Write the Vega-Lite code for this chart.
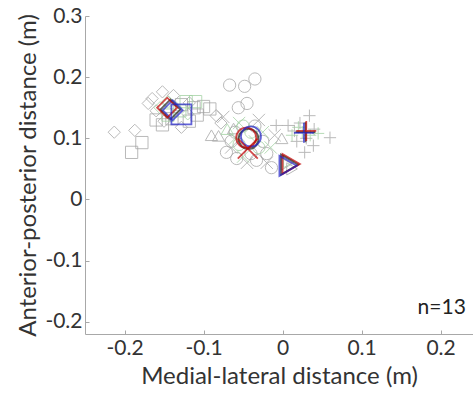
{
  "$schema": "https://vega.github.io/schema/vega-lite/v6.json",
  "width": 388,
  "height": 318,
  "autosize": {"type": "none"},
  "padding": {"left": 85, "top": 16, "right": 0, "bottom": 68},
  "background": "white",
  "config": {
    "view": {"stroke": null},
    "font": "Lato",
    "axis": {
      "grid": false,
      "domainColor": "#a8a8a8",
      "tickColor": "#a8a8a8",
      "tickSize": -4,
      "labelFont": "Lato",
      "titleFont": "Lato",
      "labelFontSize": 21,
      "titleFontSize": 24,
      "labelColor": "#333333",
      "titleColor": "#333333",
      "titleFontWeight": "normal",
      "labelPadding": 7
    }
  },
  "datasets": {
    "small": [
      {"x": -0.213, "y": 0.110, "m": "D", "c": "gray"},
      {"x": -0.187, "y": 0.113, "m": "D", "c": "gray"},
      {"x": -0.170, "y": 0.157, "m": "D", "c": "gray"},
      {"x": -0.152, "y": 0.176, "m": "D", "c": "gray"},
      {"x": -0.160, "y": 0.145, "m": "D", "c": "gray"},
      {"x": -0.138, "y": 0.170, "m": "D", "c": "gray"},
      {"x": -0.128, "y": 0.118, "m": "D", "c": "gray"},
      {"x": -0.150, "y": 0.128, "m": "D", "c": "gray"},
      {"x": -0.118, "y": 0.158, "m": "D", "c": "gray"},
      {"x": -0.165, "y": 0.165, "m": "D", "c": "gray"},
      {"x": -0.084, "y": 0.137, "m": "D", "c": "gray"},
      {"x": -0.078, "y": 0.125, "m": "D", "c": "gray"},
      {"x": -0.145, "y": 0.160, "m": "D", "c": "green"},
      {"x": -0.135, "y": 0.150, "m": "D", "c": "green"},
      {"x": -0.120, "y": 0.140, "m": "D", "c": "green"},
      {"x": -0.155, "y": 0.150, "m": "D", "c": "green"},
      {"x": -0.178, "y": 0.093, "m": "S", "c": "gray"},
      {"x": -0.191, "y": 0.077, "m": "S", "c": "gray"},
      {"x": -0.128, "y": 0.155, "m": "S", "c": "gray"},
      {"x": -0.112, "y": 0.150, "m": "S", "c": "gray"},
      {"x": -0.100, "y": 0.152, "m": "S", "c": "gray"},
      {"x": -0.108, "y": 0.138, "m": "S", "c": "gray"},
      {"x": -0.140, "y": 0.132, "m": "S", "c": "gray"},
      {"x": -0.152, "y": 0.122, "m": "S", "c": "gray"},
      {"x": -0.118, "y": 0.128, "m": "S", "c": "gray"},
      {"x": -0.092, "y": 0.148, "m": "S", "c": "gray"},
      {"x": -0.160, "y": 0.130, "m": "S", "c": "gray"},
      {"x": -0.122, "y": 0.160, "m": "S", "c": "green"},
      {"x": -0.110, "y": 0.160, "m": "S", "c": "green"},
      {"x": -0.130, "y": 0.145, "m": "S", "c": "green"},
      {"x": -0.145, "y": 0.138, "m": "S", "c": "green"},
      {"x": -0.067, "y": 0.187, "m": "O", "c": "gray"},
      {"x": -0.048, "y": 0.185, "m": "O", "c": "gray"},
      {"x": -0.035, "y": 0.197, "m": "O", "c": "gray"},
      {"x": -0.056, "y": 0.150, "m": "O", "c": "gray"},
      {"x": -0.045, "y": 0.157, "m": "O", "c": "gray"},
      {"x": -0.071, "y": 0.077, "m": "O", "c": "gray"},
      {"x": -0.058, "y": 0.067, "m": "O", "c": "gray"},
      {"x": -0.033, "y": 0.064, "m": "O", "c": "gray"},
      {"x": -0.020, "y": 0.075, "m": "O", "c": "gray"},
      {"x": -0.014, "y": 0.052, "m": "O", "c": "gray"},
      {"x": -0.060, "y": 0.110, "m": "O", "c": "gray"},
      {"x": -0.025, "y": 0.095, "m": "O", "c": "gray"},
      {"x": -0.035, "y": 0.120, "m": "O", "c": "gray"},
      {"x": -0.065, "y": 0.095, "m": "O", "c": "gray"},
      {"x": -0.040, "y": 0.075, "m": "O", "c": "gray"},
      {"x": -0.050, "y": 0.120, "m": "O", "c": "green"},
      {"x": -0.030, "y": 0.085, "m": "O", "c": "green"},
      {"x": -0.055, "y": 0.090, "m": "O", "c": "green"},
      {"x": -0.040, "y": 0.110, "m": "O", "c": "green"},
      {"x": -0.075, "y": 0.135, "m": "X", "c": "gray"},
      {"x": -0.030, "y": 0.130, "m": "X", "c": "gray"},
      {"x": -0.010, "y": 0.105, "m": "X", "c": "gray"},
      {"x": -0.020, "y": 0.060, "m": "X", "c": "gray"},
      {"x": -0.045, "y": 0.060, "m": "X", "c": "gray"},
      {"x": -0.065, "y": 0.085, "m": "X", "c": "gray"},
      {"x": -0.055, "y": 0.125, "m": "X", "c": "green"},
      {"x": -0.035, "y": 0.095, "m": "X", "c": "green"},
      {"x": -0.025, "y": 0.110, "m": "X", "c": "green"},
      {"x": -0.050, "y": 0.070, "m": "X", "c": "green"},
      {"x": -0.015, "y": 0.085, "m": "X", "c": "green"},
      {"x": -0.060, "y": 0.100, "m": "X", "c": "green"},
      {"x": -0.081, "y": 0.104, "m": "U", "c": "gray"},
      {"x": -0.062, "y": 0.116, "m": "U", "c": "gray"},
      {"x": -0.001, "y": 0.100, "m": "U", "c": "gray"},
      {"x": -0.090, "y": 0.105, "m": "U", "c": "gray"},
      {"x": -0.070, "y": 0.115, "m": "U", "c": "green"},
      {"x": 0.005, "y": 0.058, "m": "T", "c": "gray"},
      {"x": 0.012, "y": 0.050, "m": "T", "c": "gray"},
      {"x": 0.008, "y": 0.062, "m": "T", "c": "green"},
      {"x": -0.008, "y": 0.121, "m": "P", "c": "gray"},
      {"x": 0.007, "y": 0.121, "m": "P", "c": "gray"},
      {"x": 0.034, "y": 0.137, "m": "P", "c": "gray"},
      {"x": 0.060, "y": 0.101, "m": "P", "c": "gray"},
      {"x": 0.028, "y": 0.077, "m": "P", "c": "gray"},
      {"x": 0.039, "y": 0.088, "m": "P", "c": "gray"},
      {"x": 0.015, "y": 0.112, "m": "P", "c": "gray"},
      {"x": 0.022, "y": 0.125, "m": "P", "c": "gray"},
      {"x": 0.040, "y": 0.115, "m": "P", "c": "gray"},
      {"x": 0.030, "y": 0.100, "m": "P", "c": "gray"},
      {"x": 0.018, "y": 0.095, "m": "P", "c": "gray"},
      {"x": 0.025, "y": 0.110, "m": "P", "c": "green"},
      {"x": 0.035, "y": 0.105, "m": "P", "c": "green"},
      {"x": 0.020, "y": 0.118, "m": "P", "c": "green"},
      {"x": 0.045, "y": 0.108, "m": "P", "c": "green"},
      {"x": 0.012, "y": 0.105, "m": "P", "c": "green"}
    ],
    "big": [
      {"x": -0.142, "y": 0.147, "m": "D", "c": "black"},
      {"x": -0.139, "y": 0.146, "m": "D", "c": "blue"},
      {"x": -0.146, "y": 0.150, "m": "D", "c": "red"},
      {"x": -0.128, "y": 0.139, "m": "S", "c": "blue"},
      {"x": -0.043, "y": 0.099, "m": "O", "c": "black"},
      {"x": -0.046, "y": 0.101, "m": "O", "c": "red"},
      {"x": -0.040, "y": 0.103, "m": "O", "c": "blue"},
      {"x": -0.044, "y": 0.083, "m": "X", "c": "red"},
      {"x": 0.009, "y": 0.057, "m": "T", "c": "black"},
      {"x": 0.011, "y": 0.058, "m": "T", "c": "red"},
      {"x": 0.007, "y": 0.055, "m": "T", "c": "blue"},
      {"x": 0.029, "y": 0.110, "m": "P", "c": "black"},
      {"x": 0.030, "y": 0.112, "m": "P", "c": "red"},
      {"x": 0.027, "y": 0.109, "m": "P", "c": "blue"}
    ],
    "label": [
      {"x": 0.232, "y": -0.178, "t": "n=13"}
    ]
  },
  "layer": [
    {
      "data": {"name": "small"},
      "mark": {"type": "point", "filled": false, "strokeWidth": 1, "size": 150, "opacity": 0.75},
      "encoding": {
        "x": {"field": "x", "type": "quantitative",
              "scale": {"domain": [-0.25, 0.241], "nice": false, "zero": false},
              "axis": {"values": [-0.2, -0.1, 0, 0.1, 0.2], "labelExpr": "toString(datum.value)", "title": "Medial-lateral distance (m)", "titlePadding": 6}},
        "y": {"field": "y", "type": "quantitative",
              "scale": {"domain": [-0.22, 0.3], "nice": false, "zero": false},
              "axis": {"values": [-0.2, -0.1, 0, 0.1, 0.2, 0.3], "labelExpr": "toString(datum.value)", "title": "Anterior-posterior distance (m)", "titlePadding": 4}},
        "shape": {"field": "m", "type": "nominal", "legend": null,
                  "scale": {"domain": ["D", "S", "O", "X", "U", "T", "P"],
                            "range": ["diamond", "square", "circle", "M-1,-1L1,1M-1,1L1,-1", "triangle-up", "triangle-right", "M-1,0H1M0,-1V1"]}},
        "color": {"field": "c", "type": "nominal", "legend": null,
                  "scale": {"domain": ["gray", "green", "red", "blue", "black"],
                            "range": ["#a3a3a3", "#9fd09f", "#c00000", "#2020c8", "#202020"]}}
      }
    },
    {
      "data": {"name": "big"},
      "mark": {"type": "point", "filled": false, "strokeWidth": 1.8, "size": 400},
      "encoding": {
        "x": {"field": "x", "type": "quantitative"},
        "y": {"field": "y", "type": "quantitative"},
        "shape": {"field": "m", "type": "nominal", "legend": null},
        "color": {"field": "c", "type": "nominal", "legend": null}
      }
    },
    {
      "data": {"name": "label"},
      "mark": {"type": "text", "align": "right", "baseline": "middle", "fontSize": 21, "font": "Lato", "color": "#222222"},
      "encoding": {
        "x": {"field": "x", "type": "quantitative"},
        "y": {"field": "y", "type": "quantitative"},
        "text": {"field": "t"}
      }
    }
  ]
}
